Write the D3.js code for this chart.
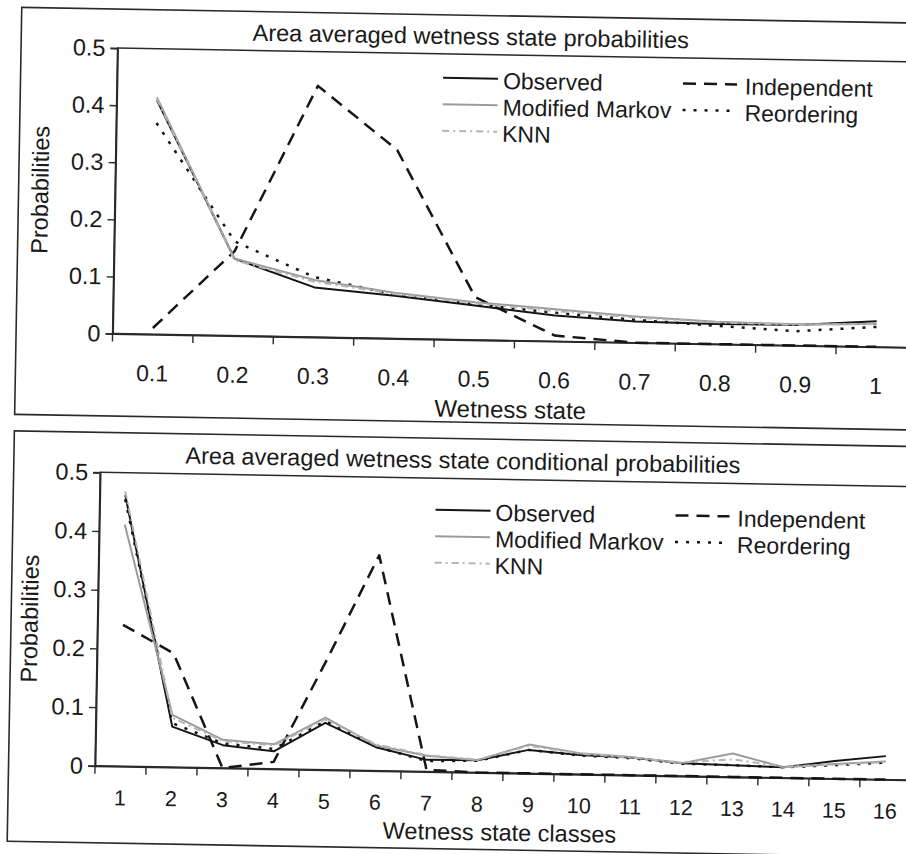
<!DOCTYPE html>
<html>
<head>
<meta charset="utf-8">
<script src="https://cdn.jsdelivr.net/npm/d3@7"></script>
<style>
body{margin:0;background:#fff;}
svg{display:block;font-family:"Liberation Sans",Arial,sans-serif;}
text{fill:#1a1a1a;}
</style>
</head>
<body>
<svg id="chart" width="906" height="854"></svg>
<script>
//top panel - wetness state
var stateCats = ["0.1","0.2","0.3","0.4","0.5","0.6","0.7","0.8","0.9","1"]
var stateObserved    = [0.410,0.135,0.087,0.075,0.060,0.045,0.037,0.035,0.036,0.045]
var stateMarkov      = [0.415,0.135,0.100,0.080,0.066,0.056,0.046,0.039,0.037,0.040]
var stateKNN         = [0.412,0.132,0.097,0.078,0.064,0.053,0.044,0.038,0.036,0.040]
var stateIndependent = [0.011,0.148,0.440,0.330,0.075,0.010,0,0,0,0]
var stateReordering  = [0.370,0.165,0.105,0.077,0.062,0.050,0.040,0.032,0.025,0.035]

//bottom panel - wetness state classes
var classCats = ["1","2","3","4","5","6","7","8","9","10","11","12","13","14","15","16"]
var classObserved    = [0.462,0.069,0.039,0.030,0.080,0.040,0.020,0.021,0.040,0.033,0.030,0.022,0.020,0.018,0.030,0.040]
var classMarkov      = [0.412,0.089,0.048,0.042,0.089,0.043,0.027,0.021,0.049,0.036,0.031,0.022,0.040,0.018,0.025,0.031]
var classKNN         = [0.468,0.084,0.046,0.040,0.086,0.045,0.028,0.022,0.047,0.035,0.030,0.023,0.030,0.019,0.024,0.030]
var classIndependent = [0.241,0.194,0,0.012,0.186,0.367,0.003,0,0,0,0,0,0,0,0,0]
var classReordering  = [0.455,0.075,0.042,0.034,0.083,0.041,0.018,0.020,0.040,0.032,0.029,0.021,0.020,0.018,0.023,0.029]

var yTicks = [0,0.1,0.2,0.3,0.4,0.5]
var seriesNames = ["Observed","Modified Markov","KNN","Independent","Reordering"]

var styles = {
    "Observed":       {color:"#151515",width:2,  dash:null},
    "Modified Markov":{color:"#9c9c9c",width:2,  dash:null},
    "KNN":            {color:"#b4b4b4",width:2,  dash:"7,4,2,4"},
    "Independent":    {color:"#151515",width:2.5,dash:"13,8"},
    "Reordering":     {color:"#151515",width:2.5,dash:"3,8"}
}
var drawOrder = ["Independent","Observed","Reordering","Modified Markov","KNN"]

var makeSeries = function(cats,lists)
{
    return seriesNames.map(function(name,i){
        return {name:name,values:cats.map(function(c,j){return {cat:c,v:lists[i][j]}})}
    })
}

var drawPanel = function(p,target)
{
    var g = target.append("g")

    g.append("rect")
        .attr("x",p.box.x).attr("y",p.box.y)
        .attr("width",p.box.w).attr("height",p.box.h)
        .attr("fill","none").attr("stroke","#2a2a2a").attr("stroke-width",1.6)

    var xScale = d3.scaleBand()
        .domain(p.cats)
        .range([p.plot.left,p.plot.right])
        .padding(0)
    var yScale = d3.scaleLinear()
        .domain([0,0.5])
        .range([p.plot.bottom,p.plot.top])

    //plot frame
    g.append("rect")
        .attr("x",p.plot.left).attr("y",p.plot.top)
        .attr("width",p.plot.right-p.plot.left)
        .attr("height",p.plot.bottom-p.plot.top)
        .attr("fill","none").attr("stroke","#2a2a2a").attr("stroke-width",1.5)

    //y axis
    var yAxis = g.append("g")
        .attr("transform","translate("+p.plot.left+",0)")
        .call(d3.axisLeft(yScale).tickValues(yTicks).tickSize(7).tickPadding(5)
              .tickFormat(function(d){return String(d)}))
    yAxis.select(".domain").attr("stroke","#2a2a2a").attr("stroke-width",1.8)
    yAxis.selectAll("line").attr("stroke","#2a2a2a").attr("stroke-width",1.4)
    yAxis.selectAll("text")
        .attr("font-size",23.5).attr("font-family","Liberation Sans, Arial, sans-serif")
        .attr("fill","#1a1a1a")

    //x axis labels
    var xAxis = g.append("g")
        .attr("transform","translate(0,"+p.plot.bottom+")")
        .call(d3.axisBottom(xScale).tickSize(0).tickSizeOuter(0))
    xAxis.select(".domain").attr("stroke","#2a2a2a").attr("stroke-width",1.8)
    xAxis.selectAll("text")
        .attr("font-size",p.xFont).attr("font-family","Liberation Sans, Arial, sans-serif")
        .attr("fill","#1a1a1a")
        .attr("y",p.xLabelY-p.plot.bottom).attr("dy","0.35em")

    //x tick marks at category boundaries
    var bounds = p.cats.map(function(c){return xScale(c)})
    bounds.push(xScale.range()[1])
    g.selectAll("line.xtick")
        .data(bounds)
        .enter()
        .append("line")
        .classed("xtick",true)
        .attr("x1",function(d){return d}).attr("x2",function(d){return d})
        .attr("y1",p.plot.bottom).attr("y2",p.plot.bottom+8)
        .attr("stroke","#2a2a2a").attr("stroke-width",1.4)

    //lines
    var line = d3.line()
        .x(function(d){return xScale(d.cat)+xScale.bandwidth()/2})
        .y(function(d){return yScale(d.v)})

    var byName = {}
    p.series.forEach(function(s){byName[s.name]=s})
    drawOrder.forEach(function(name){
        var st = styles[name]
        g.append("path")
            .datum(byName[name].values)
            .attr("d",line)
            .attr("fill","none")
            .attr("stroke",st.color)
            .attr("stroke-width",st.width)
            .attr("stroke-dasharray",st.dash)
            .attr("stroke-linejoin","round")
    })

    //labels
    g.append("text")
        .text(p.title)
        .attr("x",p.titleX).attr("y",p.titleY)
        .attr("dy","0.35em")
        .attr("text-anchor","middle")
        .attr("font-size",23.5)

    g.append("text")
        .text(p.xTitle)
        .attr("x",p.xTitleX).attr("y",p.xTitleY)
        .attr("dy","0.35em")
        .attr("text-anchor","middle")
        .attr("font-size",p.xTitleFont)

    g.append("text")
        .text("Probabilities")
        .attr("transform","translate("+p.yTitleX+","+p.yTitleY+") rotate(-90)")
        .attr("dy","0.35em")
        .attr("text-anchor","middle")
        .attr("font-size",23.5)

    //legend
    var entries = [
        {name:"Observed",col:0,row:0},
        {name:"Modified Markov",col:0,row:1},
        {name:"KNN",col:0,row:2},
        {name:"Independent",col:1,row:0},
        {name:"Reordering",col:1,row:1}
    ]
    var cols = [{x1:437,x2:492,tx:497,dy:0},{x1:677,x2:731,tx:739,dy:1.5}]
    var legend = g.append("g")
        .selectAll("g")
        .data(entries)
        .enter()
        .append("g")
        .attr("transform",function(e){
            return "translate(0,"+(p.legendY+e.row*26.5+cols[e.col].dy)+")"
        })
    legend.append("line")
        .attr("x1",function(e){return cols[e.col].x1})
        .attr("x2",function(e){return cols[e.col].x2})
        .attr("y1",0).attr("y2",0)
        .attr("stroke",function(e){return styles[e.name].color})
        .attr("stroke-width",function(e){return styles[e.name].width})
        .attr("stroke-dasharray",function(e){return styles[e.name].dash})
    legend.append("text")
        .text(function(e){return e.name})
        .attr("x",function(e){return cols[e.col].tx})
        .attr("y",2)
        .attr("dy","0.35em")
        .attr("font-size",23)
}

var initGraph = function()
{
    var svg = d3.select("#chart")
    svg.append("rect").attr("width",906).attr("height",854).attr("fill","#fff")

    //the scanned figure sits slightly tilted
    var target = svg.append("g")
        .attr("transform","rotate(1,453,427)")

    var top = {
        cats:stateCats,
        series:makeSeries(stateCats,[stateObserved,stateMarkov,stateKNN,stateIndependent,stateReordering]),
        box:{x:14.5,y:15,w:1000,h:407},
        plot:{left:111,right:915,top:54,bottom:339.5},
        title:"Area averaged wetness state probabilities",
        titleX:464,titleY:36,
        xTitle:"Wetness state",xTitleX:510,xTitleY:408.5,xTitleFont:24,
        xLabelY:378.5,xFont:23,
        yTitleX:36,yTitleY:197,
        legendY:78
    }
    var bottom = {
        cats:classCats,
        series:makeSeries(classCats,[classObserved,classMarkov,classKNN,classIndependent,classReordering]),
        box:{x:14.5,y:438.5,w:1000,h:410.5},
        plot:{left:101,right:917,top:478.5,bottom:772},
        title:"Area averaged wetness state conditional probabilities",
        titleX:463.5,titleY:460,
        xTitle:"Wetness state classes",xTitleX:506.5,xTitleY:831.5,xTitleFont:23.5,
        xLabelY:803.5,xFont:21.5,
        yTitleX:33,yTitleY:626,
        legendY:510
    }
    drawPanel(top,target)
    drawPanel(bottom,target)
}

initGraph()
</script>
</body>
</html>
